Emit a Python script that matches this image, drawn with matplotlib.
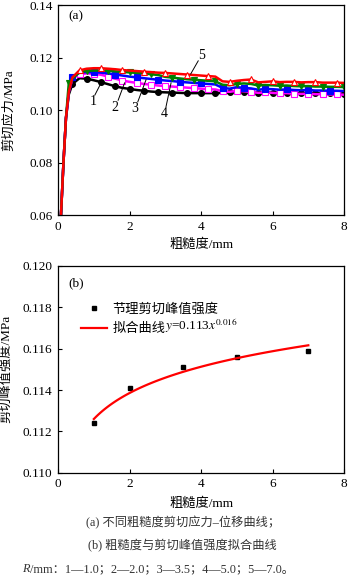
#!/usr/bin/env python
# -*- coding: utf-8 -*-
"""节理剪切试验：不同粗糙度的剪切应力-位移曲线 + 峰值强度幂函数拟合。"""
import numpy as np
import matplotlib
matplotlib.use("Agg")
import matplotlib.pyplot as plt

plt.rcParams["font.family"] = ["Liberation Serif", "Noto Sans CJK SC"]
plt.rcParams["mathtext.fontset"] = "stix"
plt.rcParams["font.size"] = 9.5

# 剪切位移 / mm（横轴刻度名沿用原图"粗糙度/mm"）
disp = [0.08, 0.15, 0.22, 0.30, 0.4, 0.6, 0.8, 1.0, 1.2, 1.4, 1.6, 1.8, 2.0, 2.2,
        2.4, 2.6, 2.8, 3.0, 3.2, 3.4, 3.6, 3.8, 4.0, 4.2, 4.4, 4.6, 4.8, 5.0,
        5.2, 5.4, 5.6, 5.8, 6.0, 6.2, 6.4, 6.6, 6.8, 7.0, 7.2, 7.4, 7.6, 7.8, 8.0]

# 剪切应力 / MPa，R = 1.0, 2.0, 3.5, 5.0, 7.0 mm
tau_r1 = [0.060, 0.080, 0.097, 0.1060, 0.1100, 0.1122, 0.1120, 0.1114, 0.1107, 0.1099,
          0.1091, 0.1085, 0.1081, 0.1077, 0.1074, 0.1071, 0.1069, 0.1068, 0.1067, 0.1066,
          0.1065, 0.1065, 0.1065, 0.1065, 0.1065, 0.1066, 0.1068, 0.1070, 0.1070, 0.1068,
          0.1066, 0.1068, 0.1067, 0.1066, 0.1066, 0.1065, 0.1065, 0.1065, 0.1064, 0.1064,
          0.1064, 0.1063, 0.1063]
tau_r2 = [0.060, 0.080, 0.097, 0.1070, 0.1120, 0.1138, 0.1140, 0.1139, 0.1135, 0.1128,
          0.1120, 0.1113, 0.1108, 0.1104, 0.1100, 0.1097, 0.1094, 0.1092, 0.1090, 0.1088,
          0.1086, 0.1084, 0.1082, 0.1080, 0.1079, 0.1072, 0.1070, 0.1074, 0.1072, 0.1070,
          0.1066, 0.1068, 0.1066, 0.1064, 0.1065, 0.1063, 0.1062, 0.1063, 0.1061, 0.1061,
          0.1060, 0.1060, 0.1059]
tau_r3 = [0.060, 0.080, 0.097, 0.1070, 0.1125, 0.1143, 0.1145, 0.1145, 0.1143, 0.1140,
          0.1136, 0.1132, 0.1128, 0.1125, 0.1122, 0.1119, 0.1116, 0.1113, 0.1111, 0.1108,
          0.1106, 0.1104, 0.1102, 0.1100, 0.1098, 0.1085, 0.1082, 0.1088, 0.1085, 0.1083,
          0.1078, 0.1081, 0.1080, 0.1078, 0.1079, 0.1077, 0.1076, 0.1077, 0.1075, 0.1075,
          0.1074, 0.1074, 0.1073]
tau_r4 = [0.060, 0.080, 0.097, 0.1105, 0.1120, 0.1145, 0.1150, 0.1151, 0.1151, 0.1150,
          0.1148, 0.1146, 0.1144, 0.1142, 0.1140, 0.1137, 0.1134, 0.1127, 0.1124, 0.1121,
          0.1118, 0.1116, 0.1114, 0.1112, 0.1110, 0.1097, 0.1095, 0.1100, 0.1102, 0.1100,
          0.1094, 0.1096, 0.1095, 0.1093, 0.1094, 0.1092, 0.1091, 0.1092, 0.1090, 0.1090,
          0.1089, 0.1089, 0.1088]
tau_r5 = [0.060, 0.080, 0.097, 0.1070, 0.1125, 0.1152, 0.1158, 0.1160, 0.1160, 0.1158,
          0.1156, 0.1153, 0.1151, 0.1149, 0.1147, 0.1145, 0.1143, 0.1142, 0.1140, 0.1138,
          0.1136, 0.1134, 0.1132, 0.1130, 0.1128, 0.1110, 0.1108, 0.1112, 0.1115, 0.1117,
          0.1106, 0.1108, 0.1110, 0.1107, 0.1108, 0.1108, 0.1106, 0.1107, 0.1107, 0.1105,
          0.1105, 0.1105, 0.1104]

# 峰值强度与拟合参数 y = a * x^b
roughness = [1.0, 2.0, 3.5, 5.0, 7.0]
peak_tau = [0.1124, 0.1141, 0.1151, 0.1156, 0.1159]
fit_a, fit_b = 0.1126, 0.016


def main():
    fig = plt.figure(figsize=(3.5, 5.83), dpi=100)
    ax1 = fig.add_axes([0.166, 0.631, 0.817, 0.360])
    ax2 = fig.add_axes([0.166, 0.189, 0.817, 0.355])

    # (a) 应力-位移曲线，按 1→5 绘制，5 号在最上层
    curves = [
        (tau_r1, "k", "o", "k", slice(4, None, 2)),
        (tau_r2, "#ff00ff", "s", "white", slice(5, None, 2)),
        (tau_r3, "#0000ff", "s", "#0000ff", slice(4, None, 3)),
        (tau_r4, "#008000", "v", "#008000", slice(3, None, 3)),
        (tau_r5, "#ff0000", "^", "white", slice(5, None, 3)),
    ]
    for tau, c, m, fc, me in curves:
        ax1.plot(disp, tau, color=c, lw=1.8, marker=m, ms=4.2, mfc=fc, mec=c,
                 mew=0.8, markevery=me)

    # 曲线编号及引线：(编号, 文字位置, 引线起点, 引线终点)
    tags = [("1", (0.97, 0.1032), (1.03, 0.1058), (1.21, 0.1106)),
            ("2", (1.58, 0.1010), (1.68, 0.1038), (1.86, 0.1104)),
            ("3", (2.14, 0.1005), (2.23, 0.1032), (2.46, 0.1116)),
            ("4", (2.97, 0.0987), (3.02, 0.1014), (3.16, 0.1104)),
            ("5", (4.02, 0.1207), (3.92, 0.1188), (3.71, 0.1138))]
    for t, txy, p0, p1 in tags:
        ax1.plot([p0[0], p1[0]], [p0[1], p1[1]], color="k", lw=0.7, zorder=5)
        ax1.text(txy[0], txy[1], t, ha="center", va="center", fontsize=10)

    ax1.set_xlim(0, 8)
    ax1.set_ylim(0.06, 0.14)
    ax1.set_xticks([0, 2, 4, 6, 8])
    ax1.set_yticks([0.06, 0.08, 0.10, 0.12, 0.14])
    ax1.set_yticklabels(["0.06", "0.08", "0.10", "0.12", "0.14"])
    ax1.set_xlabel("粗糙度/mm", labelpad=4)
    ax1.set_ylabel("剪切应力/MPa")
    ax1.yaxis.set_label_coords(-0.15, 0.5)
    ax1.text(0.035, 0.935, "(a)", transform=ax1.transAxes, fontsize=9.5)

    # (b) 峰值强度 + 拟合曲线
    xf = np.linspace(roughness[0], roughness[-1], 100)
    ax2.plot(roughness, peak_tau, ls="none", marker="s", ms=3.5, color="k",
             label="节理剪切峰值强度")
    ax2.plot(xf, fit_a * xf ** fit_b, color="#ff0000", lw=1.6, label="拟合曲线")
    ax2.set_xlim(0, 8)
    ax2.set_ylim(0.110, 0.120)
    ax2.set_xticks([0, 2, 4, 6, 8])
    ax2.set_yticks([0.110, 0.112, 0.114, 0.116, 0.118, 0.120])
    ax2.set_yticklabels(["0.110", "0.112", "0.114", "0.116", "0.118", "0.120"])
    ax2.set_xlabel("粗糙度/mm", labelpad=5)
    ax2.set_ylabel("剪切峰值强度/MPa")
    ax2.yaxis.set_label_coords(-0.16, 0.5)
    ax2.text(0.035, 0.9, "(b)", transform=ax2.transAxes, fontsize=9.5)
    leg = ax2.legend(loc="upper left", bbox_to_anchor=(0.06, 0.845), frameon=False,
                     handlelength=2.0, handletextpad=0.4, borderaxespad=0,
                     labelspacing=0.55, fontsize=9.5)
    # 拟合式接在图例文字后面（mathtext 不含中文字形，分开写）；
    # zorder 高于图例，保证图例先完成布局
    ax2.annotate(r"$y$=%.3f$x^{%.3f}$" % (fit_a, fit_b), xy=(1, 0),
                 xycoords=leg.get_texts()[1], ha="left", va="bottom",
                 fontsize=9.5, zorder=10)

    for ax in (ax1, ax2):
        ax.tick_params(direction="in", length=3, width=0.8, pad=4, labelsize=9.5)
        for s in ax.spines.values():
            s.set_linewidth(0.9)

    # 图注
    cap = "#333333"
    fig.text(0.523, 0.098, "(a) 不同粗糙度剪切应力–位移曲线；", ha="center",
             fontsize=8.8, color=cap)
    fig.text(0.52, 0.057, "(b) 粗糙度与剪切峰值强度拟合曲线", ha="center",
             fontsize=8.8, color=cap)
    r_txt = fig.text(0.063, 0.019, "R", ha="left", va="baseline", fontsize=8.8,
                     color=cap, style="italic")
    ax2.annotate("/mm：1—1.0；2—2.0；3—3.5；4—5.0；5—7.0。", xy=(1, 0.019),
                 xycoords=(r_txt, "figure fraction"), ha="left", va="baseline",
                 fontsize=8.8, color=cap, annotation_clip=False)

    fig.canvas.draw()
    fig.savefig("out.png", dpi=100)


if __name__ == "__main__":
    main()
